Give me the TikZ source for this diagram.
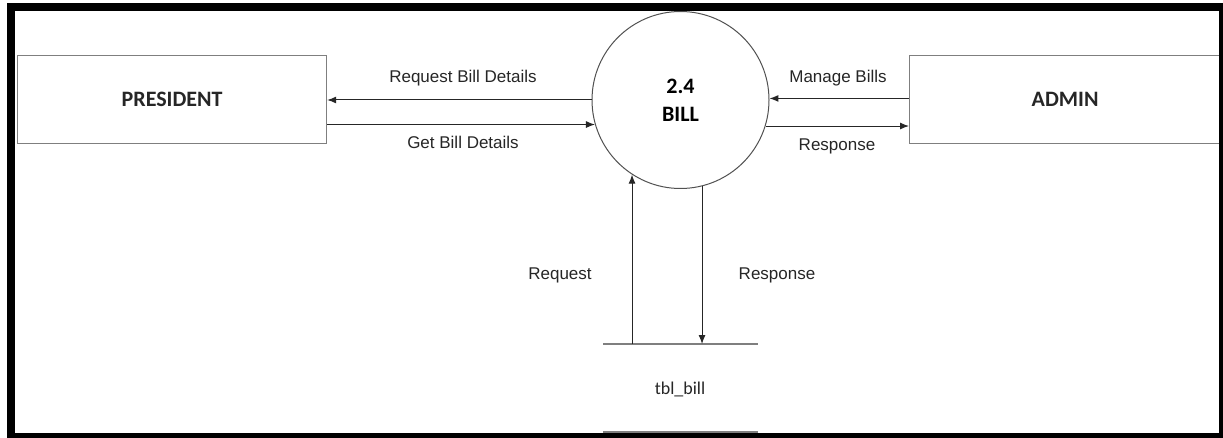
\documentclass[tikz,border=0pt]{standalone}
\usepackage{fontspec}
\setmainfont{Liberation Sans}
\newfontfamily\calibri{Carlito}
\usetikzlibrary{arrows.meta}
\definecolor{boxgray}{HTML}{7F7F7F}
\definecolor{linecol}{HTML}{262626}
\definecolor{txt}{HTML}{262626}
\tikzset{
  entity/.style={draw=boxgray, line width=1.2pt, minimum width=309pt, minimum height=88pt, inner sep=0pt, anchor=north west, font=\calibri\bfseries\fontsize{22}{24}\selectfont, text=txt},
  proc/.style={draw=linecol!80, line width=1pt, circle, minimum size=177pt, inner sep=0pt, align=center, font=\calibri\bfseries\fontsize{22}{26}\selectfont, text=black},
  flow/.style={draw=linecol, line width=1pt, -{Latex[length=9pt,width=7pt]}},
  lbl/.style={font=\fontsize{17}{19}\selectfont, text=txt, inner sep=0pt},
  storeline/.style={draw=boxgray, line width=1.6pt}
}
\begin{document}
\begin{tikzpicture}[x=1pt,y=-1pt]
\useasboundingbox (0,0) rectangle (1223,438);
\fill[white] (0,0) rectangle (1223,438);
% entities
\node[entity] (president) at (17,55) {PRESIDENT};
\node[entity, minimum width=311pt] (admin) at (909,55) {ADMIN};
% process
\node[proc] (bill) at (680.5,100) {2.4\\[2pt]BILL};
% store
\coordinate (stl) at (603,344);
\coordinate (str) at (758,344);
\coordinate (sbl) at (603,432);
\coordinate (sbr) at (758,432);
\draw[storeline] (stl) -- (str);
\draw[storeline] (sbl) -- (sbr);
\node[font=\calibri\fontsize{18}{20}\selectfont, text=txt] (tbl) at (680,389) {tbl\_bill};
% flows
\draw[flow] (bill.west) -- (president.east |- bill.west);
\draw[flow] (president.east |- bill.196.4) -- (bill.196.4);
\draw[flow] (admin.west |- bill.1.3) -- (bill.1.3);
\draw[flow] (bill.-17.8) -- (admin.west |- bill.-17.8);
\draw[flow] (bill.237.5 |- stl) -- (bill.237.5);
\draw[flow] (bill.-76.2) -- (bill.-76.2 |- stl);
% labels
\node[lbl] (l1) at (463,78) {Request Bill Details};
\node[lbl] (l2) at (463,142) {Get Bill Details};
\node[lbl] (l3) at (838,78) {Manage Bills};
\node[lbl] (l4) at (837,146) {Response};
\node[lbl] (l5) at (560,275) {Request};
\node[lbl] (l6) at (777,275) {Response};
% frame
\draw[black, line width=8pt] (11,7) rectangle (1223,437);
\end{tikzpicture}
\end{document}
